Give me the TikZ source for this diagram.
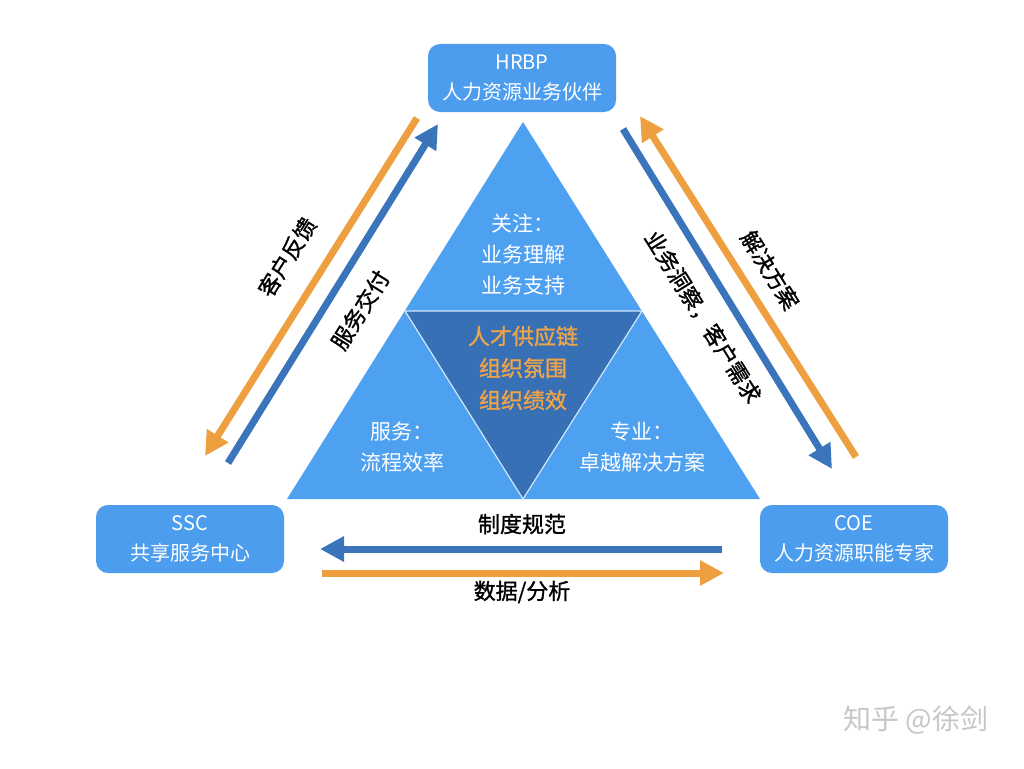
\documentclass[tikz,border=0pt]{standalone}
\usepackage{fontspec}
\setmainfont{Noto Sans CJK SC}
\newfontfamily\midweight[FakeBold=1.2]{Noto Sans CJK SC}
\usetikzlibrary{arrows.meta}

\definecolor{boxblue}{RGB}{76,157,238}
\definecolor{triblue}{RGB}{78,160,240}
\definecolor{deepblue}{RGB}{56,112,182}
\definecolor{arrblue}{RGB}{58,116,186}
\definecolor{arrorange}{RGB}{238,160,64}
\definecolor{txtorange}{RGB}{240,164,72}

\tikzset{
  rolebox/.style={draw=none,fill=boxblue,rounded corners=12pt,minimum width=188pt,
    minimum height=68pt,text=white,align=center,font=\fontsize{20}{30}\selectfont},
  tritext/.style={text=white,align=center,font=\fontsize{21}{31}\selectfont},
  flow/.style={line width=7pt,-{Triangle[length=24pt,width=24pt]}},
  flowlabel/.style={font=\fontsize{22}{26}\selectfont\midweight,text=black}
}

\begin{document}
\begin{tikzpicture}[x=1pt,y=-1pt]
\useasboundingbox (0,0) rectangle (1024,768);
\fill[white] (0,0) rectangle (1024,768);
% roles
\node[rolebox] (hrbp) at (522,78) {HRBP\\人力资源业务伙伴};
\node[rolebox] (ssc) at (190,539) {SSC\\共享服务中心};
\node[rolebox] (coe) at (854,539) {COE\\人力资源职能专家};
% pyramid
\coordinate (apex) at (523,122);
\coordinate (bl) at (287,499);
\coordinate (br) at (760,499);
\coordinate (ml) at (405,311);
\coordinate (mr) at (642,311);
\coordinate (mb) at (523,499);
\fill[triblue] (apex) -- (bl) -- (br) -- cycle;
\fill[deepblue] (ml) -- (mr) -- (mb) -- cycle;
\draw[white!75!triblue,line width=1.2pt] (ml) -- (mr) -- (mb) -- cycle;
\node[tritext] (focus) at (523,254) {关注：\\业务理解\\业务支持};
\node[tritext] (service) at (402,447) {服务：\\流程效率};
\node[tritext] (expert) at (642,447) {专业：\\卓越解决方案};
\node[text=txtorange,align=center,font=\fontsize{22}{32}\selectfont\midweight] (core) at (523,368)
  {人才供应链\\组织氛围\\组织绩效};
% left side
\coordinate (lo1) at (417,118); \coordinate (lo2) at (205,456);
\coordinate (lb1) at (228,463); \coordinate (lb2) at (438,124);
\draw[flow,arrorange] (lo1) -- (lo2);
\draw[flow,arrblue] (lb1) -- (lb2);
\node[flowlabel,rotate=58] (feedback) at (287,257) {客户反馈};
\node[flowlabel,rotate=58] (delivery) at (360,310) {服务交付};
% right side
\coordinate (rb1) at (623,129); \coordinate (rb2) at (832,469);
\coordinate (ro1) at (856,457); \coordinate (ro2) at (640,116);
\draw[flow,arrblue] (rb1) -- (rb2);
\draw[flow,arrorange] (ro1) -- (ro2);
\node[flowlabel,rotate=-58] (insight) at (703,317) {业务洞察，客户需求};
\node[flowlabel,rotate=-58] (solution) at (770,270) {解决方案};
% bottom
\coordinate (bb1) at (722,549); \coordinate (bb2) at (320,549);
\coordinate (bo1) at (322,573); \coordinate (bo2) at (724,573);
\draw[flow,arrblue] (bb1) -- (bb2);
\draw[flow,arrorange] (bo1) -- (bo2);
\node[flowlabel] (policy) at (522,524) {制度规范};
\node[flowlabel] (data) at (522,592) {数据/分析};
% watermark
\node[text=black!22,font=\fontsize{28}{30}\selectfont] (mark) at (916,720) {知乎 @徐剑};
\end{tikzpicture}
\end{document}
